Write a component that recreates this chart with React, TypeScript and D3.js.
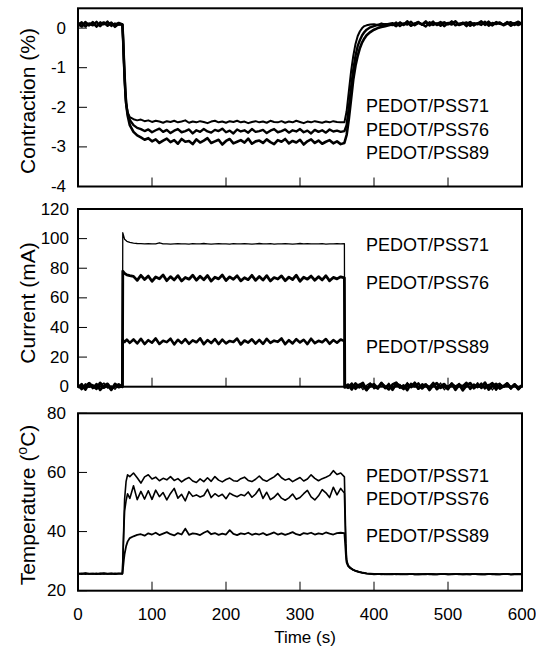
import React from "react";
import * as d3 from "d3";

// ---------- Data ----------
const series = ["PEDOT/PSS71", "PEDOT/PSS76", "PEDOT/PSS89"];
const xTicks = [0, 100, 200, 300, 400, 500, 600];
const contractionTicks = [0, -1, -2, -3, -4];
const currentTicks = [0, 20, 40, 60, 80, 100, 120];
const temperatureTicks = [20, 40, 60, 80];

// time grids (s)
const contractionTime = [
  ...d3.range(0, 60, 5),
  60, 61, 62, 63, 64, 65, 67, 70,
  ...d3.range(75, 360, 5),
  360, 363, 366, 369, 372, 375, 378, 381, 384, 387, 390, 395, 400, 405, 410, 415, 420,
  ...d3.range(425, 605, 5),
];
const currentTime = [
  ...d3.range(0, 60, 5),
  60, 60.5, 63, 66, 70,
  ...d3.range(75, 360, 5),
  360, 360.5,
  ...d3.range(365, 605, 5),
];
const temperatureTime = [
  ...d3.range(0, 60, 5),
  60, 61, 62, 63, 65, 67, 70,
  ...d3.range(75, 360, 5),
  360, 361, 362, 363, 365, 368, 372, 376, 380, 385, 390, 395,
  ...d3.range(400, 605, 5),
];

// Contraction (%)
const contraction71 = [
  0.14, 0.06, 0.16, 0.08, 0.13, 0.03, 0.15, 0.09, 0.17, 0.05, 0.12, 0.08,
  0.1, -0.35, -0.85, -1.3, -1.65, -1.9, -2.12, -2.25,
  -2.30, -2.33, -2.31, -2.35, -2.33, -2.37, -2.34, -2.36, -2.39, -2.35,
  -2.37, -2.34, -2.38, -2.36, -2.33, -2.39, -2.36, -2.38, -2.35, -2.37,
  -2.40, -2.36, -2.34, -2.38, -2.36, -2.39, -2.35, -2.37, -2.34, -2.38,
  -2.36, -2.40, -2.37, -2.35, -2.38, -2.36, -2.39, -2.34, -2.37, -2.38,
  -2.35, -2.39, -2.36, -2.38, -2.34, -2.37, -2.40, -2.36, -2.38, -2.35,
  -2.37, -2.39, -2.36, -2.38, -2.35, -2.37, -2.38,
  -2.38, -2.1, -1.6, -1.1, -0.7, -0.4, -0.2, -0.08, 0.0, 0.05, 0.07, 0.09, 0.1, 0.08, 0.12, 0.09, 0.11,
  0.13, 0.07, 0.15, 0.09, 0.18, 0.06, 0.12, 0.16, 0.08, 0.14,
  0.1, 0.17, 0.07, 0.13, 0.15, 0.09, 0.12, 0.18, 0.08, 0.14,
  0.11, 0.16, 0.06, 0.13, 0.15, 0.1, 0.17, 0.08, 0.12, 0.14,
  0.09, 0.16, 0.11, 0.13, 0.07, 0.12,
];
const contraction76 = [
  0.08, 0.15, 0.04, 0.12, 0.07, 0.16, 0.05, 0.13, 0.09, 0.14, 0.03, 0.11,
  0.08, -0.3, -0.8, -1.25, -1.62, -1.9, -2.15, -2.32,
  -2.45, -2.52, -2.55, -2.60, -2.56, -2.63, -2.58, -2.54, -2.62, -2.57,
  -2.65, -2.59, -2.55, -2.63, -2.60, -2.56, -2.66, -2.58, -2.62, -2.55,
  -2.61, -2.64, -2.57, -2.60, -2.54, -2.63, -2.59, -2.66, -2.56, -2.61,
  -2.58, -2.64, -2.55, -2.62, -2.60, -2.57, -2.65, -2.59, -2.55, -2.63,
  -2.60, -2.56, -2.64, -2.58, -2.61, -2.55, -2.63, -2.59, -2.66, -2.57,
  -2.62, -2.58, -2.64, -2.56, -2.61, -2.59, -2.62,
  -2.6, -2.45, -2.0, -1.5, -1.05, -0.7, -0.45, -0.3, -0.18, -0.1, -0.04, 0.02, 0.05, 0.08, 0.07, 0.1, 0.09,
  0.08, 0.14, 0.05, 0.12, 0.09, 0.16, 0.07, 0.13, 0.1, 0.04,
  0.15, 0.08, 0.12, 0.06, 0.14, 0.1, 0.17, 0.07, 0.11, 0.13,
  0.05, 0.15, 0.09, 0.12, 0.08, 0.16, 0.06, 0.13, 0.1, 0.14,
  0.07, 0.11, 0.15, 0.08, 0.12, 0.1,
];
const contraction89 = [
  0.1, 0.04, 0.13, 0.07, 0.15, 0.05, 0.11, 0.14, 0.06, 0.12, 0.08, 0.13,
  0.09, -0.28, -0.78, -1.22, -1.6, -1.88, -2.2, -2.45,
  -2.62, -2.71, -2.76, -2.82, -2.78, -2.86, -2.81, -2.90, -2.84, -2.79,
  -2.88, -2.83, -2.92, -2.80, -2.87, -2.85, -2.93, -2.81, -2.89, -2.84,
  -2.78, -2.90, -2.86, -2.82, -2.94, -2.85, -2.80, -2.91, -2.87, -2.83,
  -2.89, -2.79, -2.92, -2.86, -2.84, -2.90, -2.81, -2.88, -2.93, -2.83,
  -2.87, -2.80, -2.91, -2.85, -2.89, -2.82, -2.94, -2.86, -2.81, -2.90,
  -2.84, -2.92, -2.87, -2.83, -2.91, -2.86, -2.93,
  -2.9, -2.7, -2.3, -1.8, -1.3, -0.95, -0.7, -0.5, -0.36, -0.26, -0.18, -0.1, -0.04, 0.0, 0.03, 0.05, 0.07,
  0.1, 0.05, 0.13, 0.08, 0.15, 0.06, 0.11, 0.14, 0.09, 0.17,
  0.07, 0.12, 0.1, 0.15, 0.05, 0.13, 0.09, 0.16, 0.08, 0.11,
  0.14, 0.06, 0.12, 0.1, 0.17, 0.08, 0.13, 0.07, 0.15, 0.11,
  0.09, 0.14, 0.06, 0.12, 0.16, 0.1,
];

// Current (mA)
const current71 = [
  0.5, -1.5, 2.0, -0.5, 1.5, -2.0, 1.0, 2.5, -1.0, 0.5, -1.8, 1.2,
  0.8, 104, 99.5, 98.2, 97.4,
  96.9, 96.7, 96.6, 96.5, 96.6, 96.4, 96.5, 97.2, 96.4, 96.5,
  96.3, 96.5, 96.6, 96.4, 96.5, 96.3, 96.6, 96.5, 96.4, 96.7,
  96.5, 96.3, 96.5, 96.6, 96.4, 96.5, 96.3, 96.6, 96.5, 96.4,
  96.6, 96.5, 96.3, 96.5, 96.7, 96.4, 96.5, 96.6, 96.3, 96.5,
  96.4, 96.6, 96.5, 96.3, 96.5, 96.7, 96.4, 96.6, 96.5, 96.4,
  96.5, 96.6, 96.3, 96.5, 96.4, 96.6, 96.5,
  96.6, 0.5,
  -1.2, 2.3, -0.5, 1.8, -2.0, 0.9, 2.6, -1.5, 0.3, 1.9,
  -0.8, 2.4, -1.9, 0.7, 1.5, -1.1, 2.8, -0.3, 1.2, -1.7,
  2.1, 0.2, -1.4, 1.7, -0.6, 2.5, -2.1, 0.8, 1.4, -0.9,
  2.2, -1.6, 0.4, 1.9, -0.7, 2.7, -1.3, 0.6, 1.6, -2.2,
  1.1, 2.4, -0.4, 0.9, -1.8, 2.0, -0.2, 1.3,
];
const current76 = [
  -0.8, 1.7, -1.9, 2.2, 0.3, -1.2, 2.6, -0.6, 1.1, -2.1, 1.9, -0.3,
  0.6, 78, 76.5, 75.5, 75,
  74.5, 71.8, 75.2, 72.4, 74.8, 71.2, 74.1, 72.9, 75.5, 71.6,
  74.3, 72.1, 75.0, 71.4, 73.8, 72.6, 75.3, 71.9, 74.6, 72.2,
  75.1, 71.3, 73.9, 72.8, 75.4, 71.7, 74.2, 72.5, 74.9, 71.5,
  73.6, 72.3, 75.2, 71.8, 74.4, 72.0, 75.0, 71.4, 73.7, 72.7,
  74.8, 71.6, 74.0, 72.4, 75.3, 71.2, 73.9, 72.6, 74.7, 71.9,
  74.3, 72.1, 74.9, 71.5, 73.8, 72.8, 74.2,
  73.5, -0.5,
  1.4, -1.8, 2.1, -0.4, 0.9, -2.3, 1.7, 0.2, -1.1, 2.5,
  -0.9, 1.3, -2.0, 2.2, 0.5, -1.5, 1.8, -0.2, 2.6, -1.3,
  0.7, 1.5, -2.2, 1.0, 2.3, -0.7, 0.4, -1.6, 2.0, -0.1,
  1.6, -2.4, 0.8, 2.4, -1.0, 1.2, -0.5, 2.7, -1.9, 0.6,
  1.9, -1.2, 0.3, 2.1, -0.8, 1.4, -1.7, 0.9,
];
const current89 = [
  1.3, -1.6, 0.4, 2.4, -0.9, 1.8, -2.2, 0.7, 2.0, -1.3, 0.2, 1.6,
  -0.2, 31.5, 30.2, 31.8, 29.6,
  31.9, 29.2, 32.3, 28.8, 31.4, 29.7, 32.6, 28.9, 31.0, 30.1,
  32.4, 28.6, 31.7, 29.4, 32.1, 29.0, 31.3, 30.0, 32.7, 28.7,
  31.5, 29.5, 32.2, 28.8, 31.8, 29.3, 30.9, 30.2, 32.5, 28.5,
  31.2, 29.8, 32.0, 29.1, 31.6, 28.9, 32.3, 29.6, 31.1, 30.3,
  32.6, 28.7, 31.4, 29.2, 32.1, 29.9, 31.7, 28.8, 32.4, 29.4,
  31.0, 30.0, 32.2, 29.0, 31.5, 29.7, 31.9,
  30.8, 0.2,
  -0.6, 2.0, -1.4, 1.1, 2.6, -2.0, 0.5, 1.7, -1.0, 2.3,
  0.1, -1.8, 1.5, 2.8, -0.7, 0.9, -2.3, 1.9, 0.3, 2.2,
  -1.2, 1.3, -0.4, 2.5, -1.7, 0.6, 1.8, -0.9, 2.1, -2.1,
  1.0, 0.4, 2.6, -1.5, 1.4, -0.3, 2.0, -1.1, 0.8, 2.4,
  -1.9, 1.2, 0.0, 2.3, -0.8, 1.6, -1.4, 0.7,
];

// Temperature (oC)
const temperature71 = [
  25.8, 25.6, 25.9, 25.7, 25.8, 25.6, 25.9, 25.7, 25.8, 25.7, 25.9, 25.8,
  25.8, 34, 43, 51, 57, 59.2, 58.6,
  59.8, 58.2, 56.4, 58.5, 59.2, 57.8, 58.4, 57.2, 58.0, 57.5,
  58.6, 57.3, 57.9, 56.8, 57.7, 58.3, 57.1, 56.6, 57.8, 56.9,
  58.2, 57.0, 58.6, 57.4, 56.8, 57.6, 58.1, 57.2, 57.0, 57.9,
  58.4, 57.3, 56.9, 57.7, 58.8, 57.5, 57.0, 57.8, 58.5, 59.6,
  58.2, 57.4, 57.9, 56.9, 57.6, 58.3, 57.1, 57.8, 59.2, 58.0,
  57.2, 57.9, 58.4, 59.0, 60.6, 59.3, 59.8,
  58.5, 47, 36, 30.5, 28.6, 27.8, 27.1, 26.7, 26.4, 26.1, 25.9, 25.8,
  25.7, 25.6, 25.7, 25.5, 25.6, 25.7, 25.5, 25.6, 25.6, 25.5,
  25.7, 25.6, 25.5, 25.6, 25.7, 25.5, 25.6, 25.5, 25.7, 25.6,
  25.5, 25.6, 25.7, 25.5, 25.6, 25.6, 25.5, 25.7, 25.6, 25.5,
  25.6, 25.7, 25.5, 25.6, 25.5, 25.6, 25.7, 25.5, 25.6, 25.6,
  25.5,
];
const temperature76 = [
  25.7, 25.9, 25.6, 25.8, 25.7, 25.9, 25.6, 25.8, 25.7, 25.9, 25.6, 25.8,
  25.7, 33, 41, 47, 50.5, 52.8, 51.2,
  55.5, 50.8, 53.6, 51.0, 53.8, 50.9, 54.0, 51.8, 53.2, 50.7,
  52.9, 54.6, 51.3, 52.6, 50.4, 53.5, 51.9, 52.4, 51.7, 52.2,
  54.3, 51.5, 52.8, 51.9, 52.6, 51.1, 53.0, 52.3, 51.8, 52.5,
  52.1, 53.4, 51.6, 52.7, 54.5, 51.2, 53.3, 50.8, 51.6, 52.9,
  51.3, 50.6, 51.4, 52.7, 50.9, 51.5, 52.8, 53.9, 51.7, 50.7,
  52.1, 54.2, 53.1, 51.5, 55.0, 52.4, 54.6,
  53.0, 43, 34, 30, 28.5, 27.7, 27.0, 26.6, 26.3, 26.0, 25.8, 25.7,
  25.6, 25.7, 25.5, 25.6, 25.6, 25.5, 25.7, 25.6, 25.5, 25.6,
  25.7, 25.5, 25.6, 25.6, 25.5, 25.7, 25.6, 25.5, 25.6, 25.7,
  25.6, 25.5, 25.6, 25.7, 25.5, 25.6, 25.6, 25.7, 25.5, 25.6,
  25.5, 25.7, 25.6, 25.6, 25.5, 25.7, 25.6, 25.5, 25.6, 25.7,
  25.6,
];
const temperature89 = [
  25.8, 25.7, 25.9, 25.7, 25.8, 25.6, 25.8, 25.9, 25.7, 25.8, 25.6, 25.8,
  25.8, 28, 30.5, 32.5, 35, 36.6, 37.8,
  38.4, 38.9, 39.1, 38.6, 39.4, 39.0, 39.6, 38.8, 39.3, 39.8,
  39.1, 38.7, 39.5, 39.0, 41.0, 38.9, 39.4, 39.2, 38.8, 39.6,
  40.2, 39.1, 39.5, 38.9, 39.3, 39.0, 40.5, 39.2, 38.8, 39.4,
  39.1, 39.6, 38.9, 39.3, 39.0, 39.5, 38.8, 39.2, 39.7, 39.0,
  39.4, 38.9, 39.3, 39.8, 39.1, 38.8, 39.5, 39.2, 39.6, 39.0,
  39.4, 39.1, 39.7, 39.3, 39.0, 39.5, 39.6,
  39.5, 36, 32, 29.5, 28.3, 27.6, 27.0, 26.6, 26.3, 26.0, 25.8, 25.7,
  25.5, 25.6, 25.7, 25.6, 25.5, 25.6, 25.7, 25.5, 25.6, 25.6,
  25.7, 25.5, 25.6, 25.5, 25.6, 25.7, 25.5, 25.6, 25.6, 25.7,
  25.5, 25.6, 25.7, 25.6, 25.5, 25.6, 25.5, 25.7, 25.6, 25.6,
  25.5, 25.6, 25.7, 25.5, 25.6, 25.6, 25.7, 25.5, 25.6, 25.5,
  25.6,
];

// ---------- Layout ----------
const W = 536;
const H = 648;
const FONT = "'Liberation Sans', Arial, Helvetica, sans-serif";
const x = d3.scaleLinear().domain([0, 600]).range([78, 522]);

type Panel = {
  key: string;
  top: number;
  bottom: number;
  domain: [number, number];
  ticks: number[];
  time: number[];
  values: number[][];
  widths: number[];
  labelY: number[];
  tickLabelX: number;
};

const panels: Panel[] = [
  {
    key: "contraction",
    top: 8.3,
    bottom: 186.5,
    domain: [-4, 0.5],
    ticks: contractionTicks,
    time: contractionTime,
    values: [contraction71, contraction76, contraction89],
    widths: [2.0, 2.4, 2.6],
    labelY: [106, 130, 153],
    tickLabelX: 66,
  },
  {
    key: "current",
    top: 209,
    bottom: 386.7,
    domain: [0, 120],
    ticks: currentTicks,
    time: currentTime,
    values: [current71, current76, current89],
    widths: [1.3, 2.8, 2.6],
    labelY: [245, 283, 347],
    tickLabelX: 69,
  },
  {
    key: "temperature",
    top: 413.3,
    bottom: 590.7,
    domain: [20, 80],
    ticks: temperatureTicks,
    time: temperatureTime,
    values: [temperature71, temperature76, temperature89],
    widths: [1.6, 1.6, 1.8],
    labelY: [476, 499, 536],
    tickLabelX: 66,
  },
];

function PanelView({ p }: { p: Panel }) {
  const y = d3.scaleLinear().domain(p.domain).range([p.bottom, p.top]);
  const line = d3
    .line<[number, number]>()
    .x((d) => x(d[0]))
    .y((d) => y(d[1]));
  const [x0, x1] = x.range();
  return (
    <g>
      {p.values.map((vals, i) => (
        <path
          key={i}
          d={line(d3.zip(p.time, vals) as [number, number][]) || ""}
          fill="none"
          stroke="#000"
          strokeWidth={p.widths[i]}
          strokeLinejoin="round"
        />
      ))}
      <rect
        x={x0}
        y={p.top}
        width={x1 - x0}
        height={p.bottom - p.top}
        fill="none"
        stroke="#000"
        strokeWidth={2}
      />
      {xTicks.slice(1, -1).map((t) => (
        <line
          key={"xt" + t}
          x1={x(t)}
          x2={x(t)}
          y1={p.bottom}
          y2={p.bottom - 9}
          stroke="#000"
          strokeWidth={1}
        />
      ))}
      {p.ticks.map((t) => (
        <g key={"yt" + t}>
          <line x1={x0} x2={x0 + 9} y1={y(t)} y2={y(t)} stroke="#000" strokeWidth={1} />
          <text
            x={p.tickLabelX}
            y={y(t)}
            textAnchor="end"
            dominantBaseline="central"
            fontSize={17}
            fontFamily={FONT}
          >
            {t}
          </text>
        </g>
      ))}
      {series.map((s, i) => (
        <text
          key={s}
          x={366}
          y={p.labelY[i]}
          dominantBaseline="central"
          fontSize={18}
          fontFamily={FONT}
        >
          {s}
        </text>
      ))}
    </g>
  );
}

export default function App() {
  return (
    <svg
      width={W}
      height={H}
      viewBox={`0 0 ${W} ${H}`}
      style={{ position: "absolute", left: 0, top: 0, background: "#fff" }}
    >
      <rect x={0} y={0} width={W} height={H} fill="#fff" />
      {panels.map((p) => (
        <PanelView key={p.key} p={p} />
      ))}
      {xTicks.map((t) => (
        <text
          key={"xl" + t}
          x={x(t)}
          y={620}
          textAnchor="middle"
          fontSize={17}
          fontFamily={FONT}
        >
          {t}
        </text>
      ))}
      <text x={305} y={643} textAnchor="middle" fontSize={17} fontFamily={FONT}>
        Time (s)
      </text>
      <text
        transform="translate(35,101) rotate(-90)"
        textAnchor="middle"
        fontSize={21}
        fontFamily={FONT}
      >
        Contraction (%)
      </text>
      <text
        transform="translate(35,303) rotate(-90)"
        textAnchor="middle"
        fontSize={21}
        fontFamily={FONT}
      >
        Current (mA)
      </text>
      <text
        transform="translate(35,505) rotate(-90)"
        textAnchor="middle"
        fontSize={21}
        fontFamily={FONT}
      >
        Temperature (
        <tspan fontSize={14} dy={-8}>
          o
        </tspan>
        <tspan dy={8}>C)</tspan>
      </text>
    </svg>
  );
}
